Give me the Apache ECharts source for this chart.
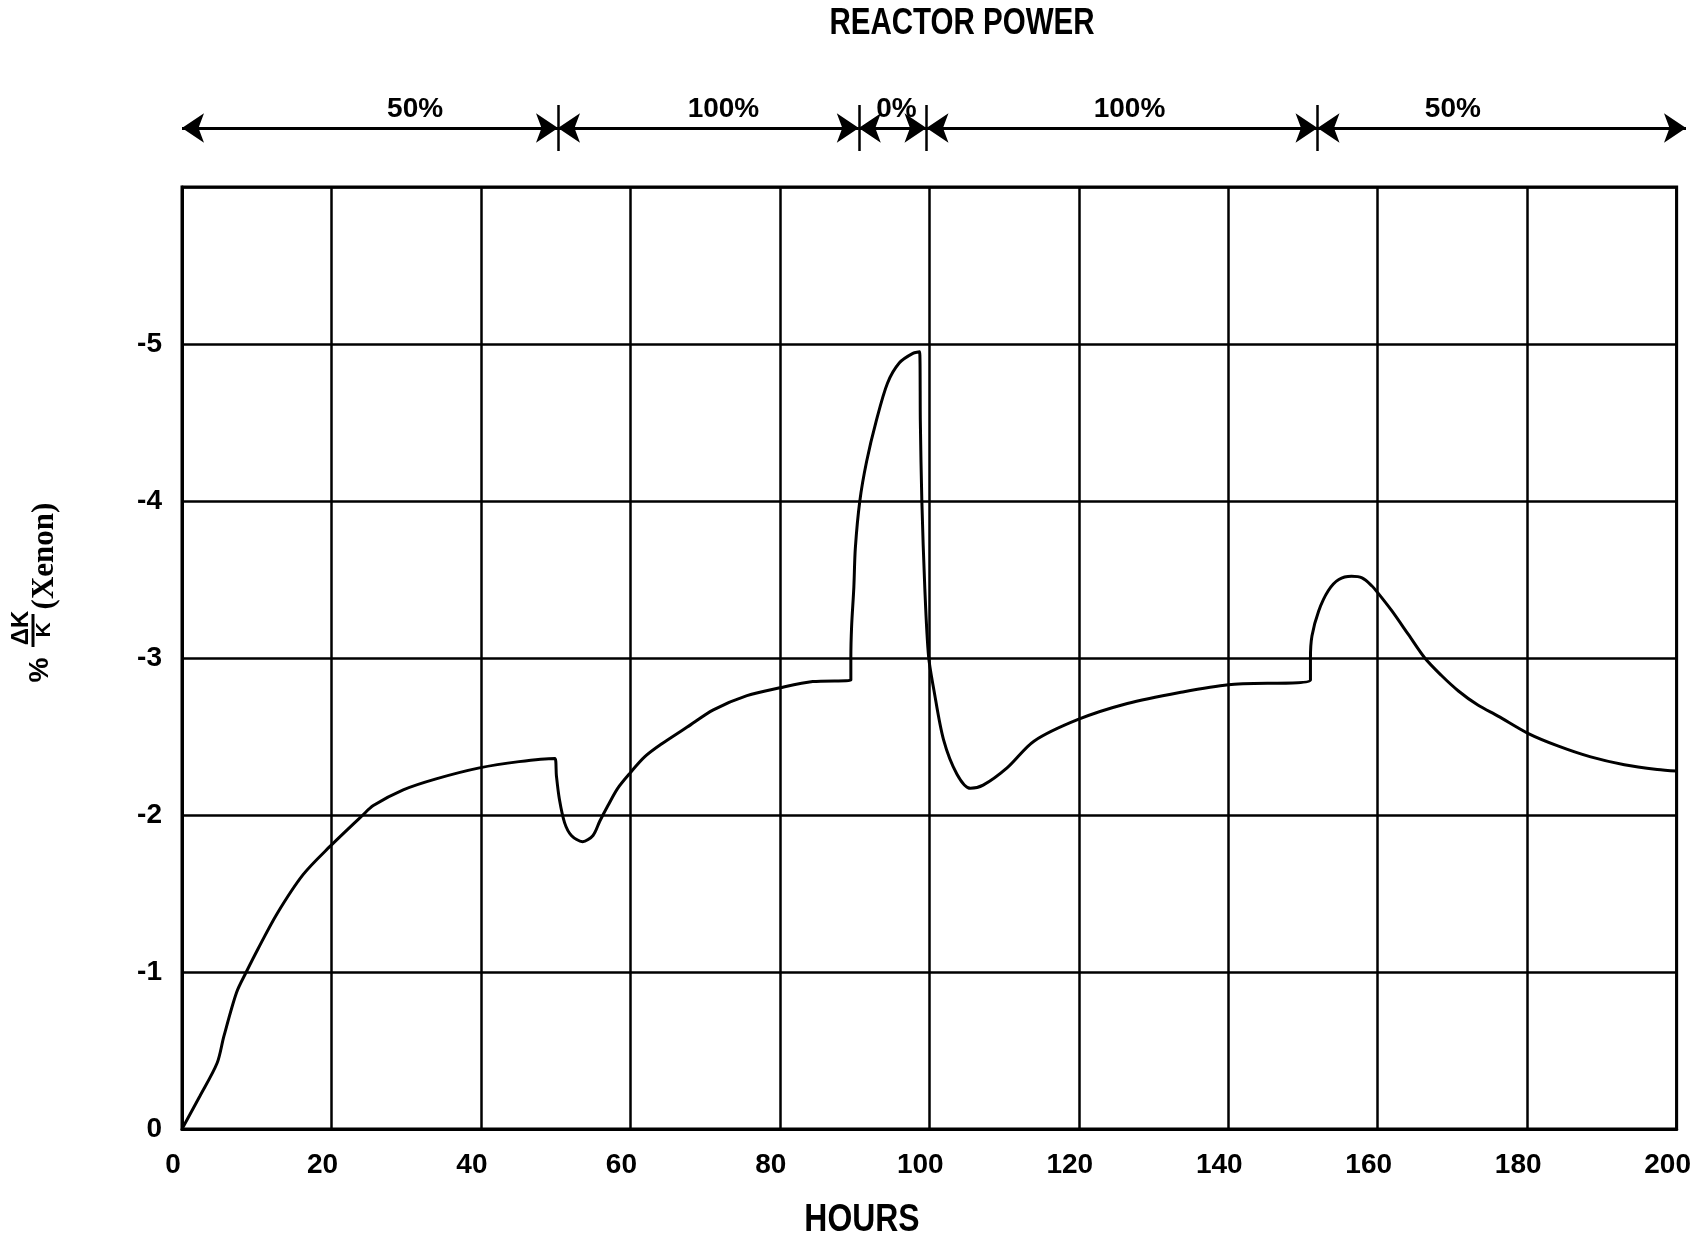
<!DOCTYPE html>
<html>
<head>
<meta charset="utf-8">
<script src="https://cdn.jsdelivr.net/npm/echarts@6/dist/echarts.min.js"></script>
<style>
html,body{margin:0;padding:0;background:#fff;}
#chart{width:1694px;height:1239px;}
</style>
</head>
<body>
<div id="chart"></div>
<script>
// Xenon reactivity curve (hours, %dK/K)
const hours = [0, 2.4, 4.7, 5.6, 7.3, 8.6, 10.2, 12.7, 16.2, 19.8, 24.2, 25.6, 29.6, 34, 39.8, 45.1, 49.9,
  50.1, 50.5, 51.2, 52.1, 53.6, 55, 55.9, 57, 58.3, 60, 61.9, 64.1, 67.6, 71.1, 75.6, 80, 84.4, 89.5,
  89.5, 89.6, 89.9, 90.1, 90.7, 91.6, 92.9, 94.4, 96, 97.8, 98.7,
  98.8, 99.0, 99.4, 99.9, 100.6, 101.9, 103.7, 105.5, 107.2, 110.4, 114, 120, 126.5, 133.5, 140, 151.0,
  151.0, 151.2, 152.1, 153.4, 154.8, 156.5, 157.9, 159.2, 160.1, 161.9, 164.1, 166.3, 168.5, 170.8, 173.4, 176.1, 180.1, 184.1, 188.5, 193, 197.4, 200];
const xenonWorth = [0, -0.21, -0.42, -0.59, -0.87, -1.0, -1.15, -1.37, -1.62, -1.80, -2.0, -2.06, -2.16, -2.23, -2.30, -2.34, -2.36,
  -2.25, -2.10, -1.95, -1.87, -1.83, -1.87, -1.96, -2.06, -2.17, -2.27, -2.37, -2.45, -2.56, -2.67, -2.76, -2.81, -2.85, -2.86,
  -3.0, -3.2, -3.45, -3.7, -4.0, -4.25, -4.51, -4.75, -4.88, -4.94, -4.95,
  -4.5, -4.0, -3.44, -3.01, -2.80, -2.48, -2.26, -2.17, -2.19, -2.30, -2.47, -2.61, -2.71, -2.78, -2.83, -2.86,
  -3.0, -3.14, -3.30, -3.43, -3.50, -3.52, -3.51, -3.46, -3.41, -3.30, -3.15, -3.0, -2.89, -2.79, -2.70, -2.63, -2.52, -2.44, -2.37, -2.32, -2.29, -2.28];

// Reactor power periods (hours)
const powerStart = [0, 50, 90, 99, 151];
const powerEnd = [50, 90, 99, 151, 200];
const powerLabels = ['50%', '100%', '0%', '100%', '50%'];
const powerLabelAt = [31, 72, 95, 126, 169];
const powerChanges = [50, 90, 99, 151];

const FONT = "'Liberation Sans Narrow','Arial Narrow','Liberation Sans',Arial,sans-serif";

const chart = echarts.init(document.getElementById('chart'), null, {renderer: 'canvas'});

const curve = hours.map((h, i) => [h, xenonWorth[i]]);
const arrows = powerStart.map((s, i) => ({coords: [[s, 0], [powerEnd[i], 0]]}));
const dividers = powerChanges.map(h => ({coords: [[h, -0.82], [h, 0.82]]}));
const labelPts = powerLabels.map((t, i) => [powerLabelAt[i], 0.68, t]);

chart.setOption({
  animation: false,
  backgroundColor: '#fff',
  grid: [
    {left: 182, top: 187, width: 1504, height: 942, show: true, borderColor: '#000', borderWidth: 3, backgroundColor: 'transparent'},
    {left: 182, top: 100, width: 1504, height: 56, show: false}
  ],
  xAxis: [
    {type: 'value', gridIndex: 0, min: 0, max: 200, interval: 20,
      axisLine: {show: true, lineStyle: {color: '#000', width: 3}},
      axisTick: {show: false},
      axisLabel: {color: '#000', fontFamily: FONT, fontWeight: 'bold', fontSize: 28, margin: 22, padding: [0, 18, 0, 0]},
      splitLine: {show: true, lineStyle: {color: '#000', width: 2.5}}},
    {type: 'value', gridIndex: 1, min: 0, max: 200, show: false}
  ],
  yAxis: [
    {type: 'value', gridIndex: 0, min: -6, max: 0, interval: 1, inverse: true,
      axisLine: {show: true, lineStyle: {color: '#000', width: 3}},
      axisTick: {show: false},
      axisLabel: {color: '#000', fontFamily: FONT, fontWeight: 'bold', fontSize: 28, margin: 20,
        formatter: v => (v === -6 ? '' : String(v))},
      splitLine: {show: true, lineStyle: {color: '#000', width: 2.5}}},
    {type: 'value', gridIndex: 1, min: -1, max: 1, show: false}
  ],
  series: [
    {type: 'line', xAxisIndex: 0, yAxisIndex: 0, data: curve, showSymbol: false, symbol: 'none',
      lineStyle: {color: '#000', width: 3}, smooth: 0.3, z: 5},
    {type: 'lines', coordinateSystem: 'cartesian2d', xAxisIndex: 1, yAxisIndex: 1, data: arrows,
      symbol: ['arrow', 'arrow'], symbolSize: 22,
      lineStyle: {color: '#000', width: 3, opacity: 1}},
    {type: 'lines', coordinateSystem: 'cartesian2d', xAxisIndex: 1, yAxisIndex: 1, data: dividers,
      symbol: ['none', 'none'],
      lineStyle: {color: '#000', width: 2.5, opacity: 1}},
    {type: 'scatter', xAxisIndex: 1, yAxisIndex: 1, data: labelPts, symbolSize: 0,
      itemStyle: {color: '#000', opacity: 1},
      label: {show: true, position: 'inside', formatter: p => p.value[2], color: '#000', opacity: 1,
        textBorderWidth: 0, textShadowBlur: 0,
        fontFamily: FONT, fontWeight: 'bold', fontSize: 28}}
  ],
  graphic: [
    {type: 'text', x: 962, y: 24, scaleX: 0.82, style: {text: 'REACTOR POWER', fill: '#000', font: "bold 36px " + FONT, textAlign: 'center', textVerticalAlign: 'middle'}},
    {type: 'text', x: 862, y: 1221, scaleX: 0.84, style: {text: 'HOURS', fill: '#000', font: "bold 38px " + FONT, textAlign: 'center', textVerticalAlign: 'middle'}},
    {type: 'text', x: 40, y: 670, rotation: Math.PI / 2, style: {text: '%', fill: '#000', font: "bold 28px 'Liberation Sans',Arial,sans-serif", textAlign: 'center', textVerticalAlign: 'middle'}},
    {type: 'text', x: 21, y: 628, rotation: Math.PI / 2, style: {text: 'ΔK', fill: '#000', font: "bold 24px 'Liberation Sans',Arial,sans-serif", textAlign: 'center', textVerticalAlign: 'middle'}},
    {type: 'line', shape: {x1: 33, y1: 614, x2: 33, y2: 647}, style: {stroke: '#000', lineWidth: 3}},
    {type: 'text', x: 44, y: 630, rotation: Math.PI / 2, style: {text: 'K', fill: '#000', font: "bold 21px 'Liberation Sans',Arial,sans-serif", textAlign: 'center', textVerticalAlign: 'middle'}},
    {type: 'text', x: 45, y: 556, rotation: Math.PI / 2, style: {text: '(Xenon)', fill: '#000', font: "bold 31px 'Liberation Serif','Times New Roman',serif", textAlign: 'center', textVerticalAlign: 'middle'}}
  ]
});
</script>
</body>
</html>
